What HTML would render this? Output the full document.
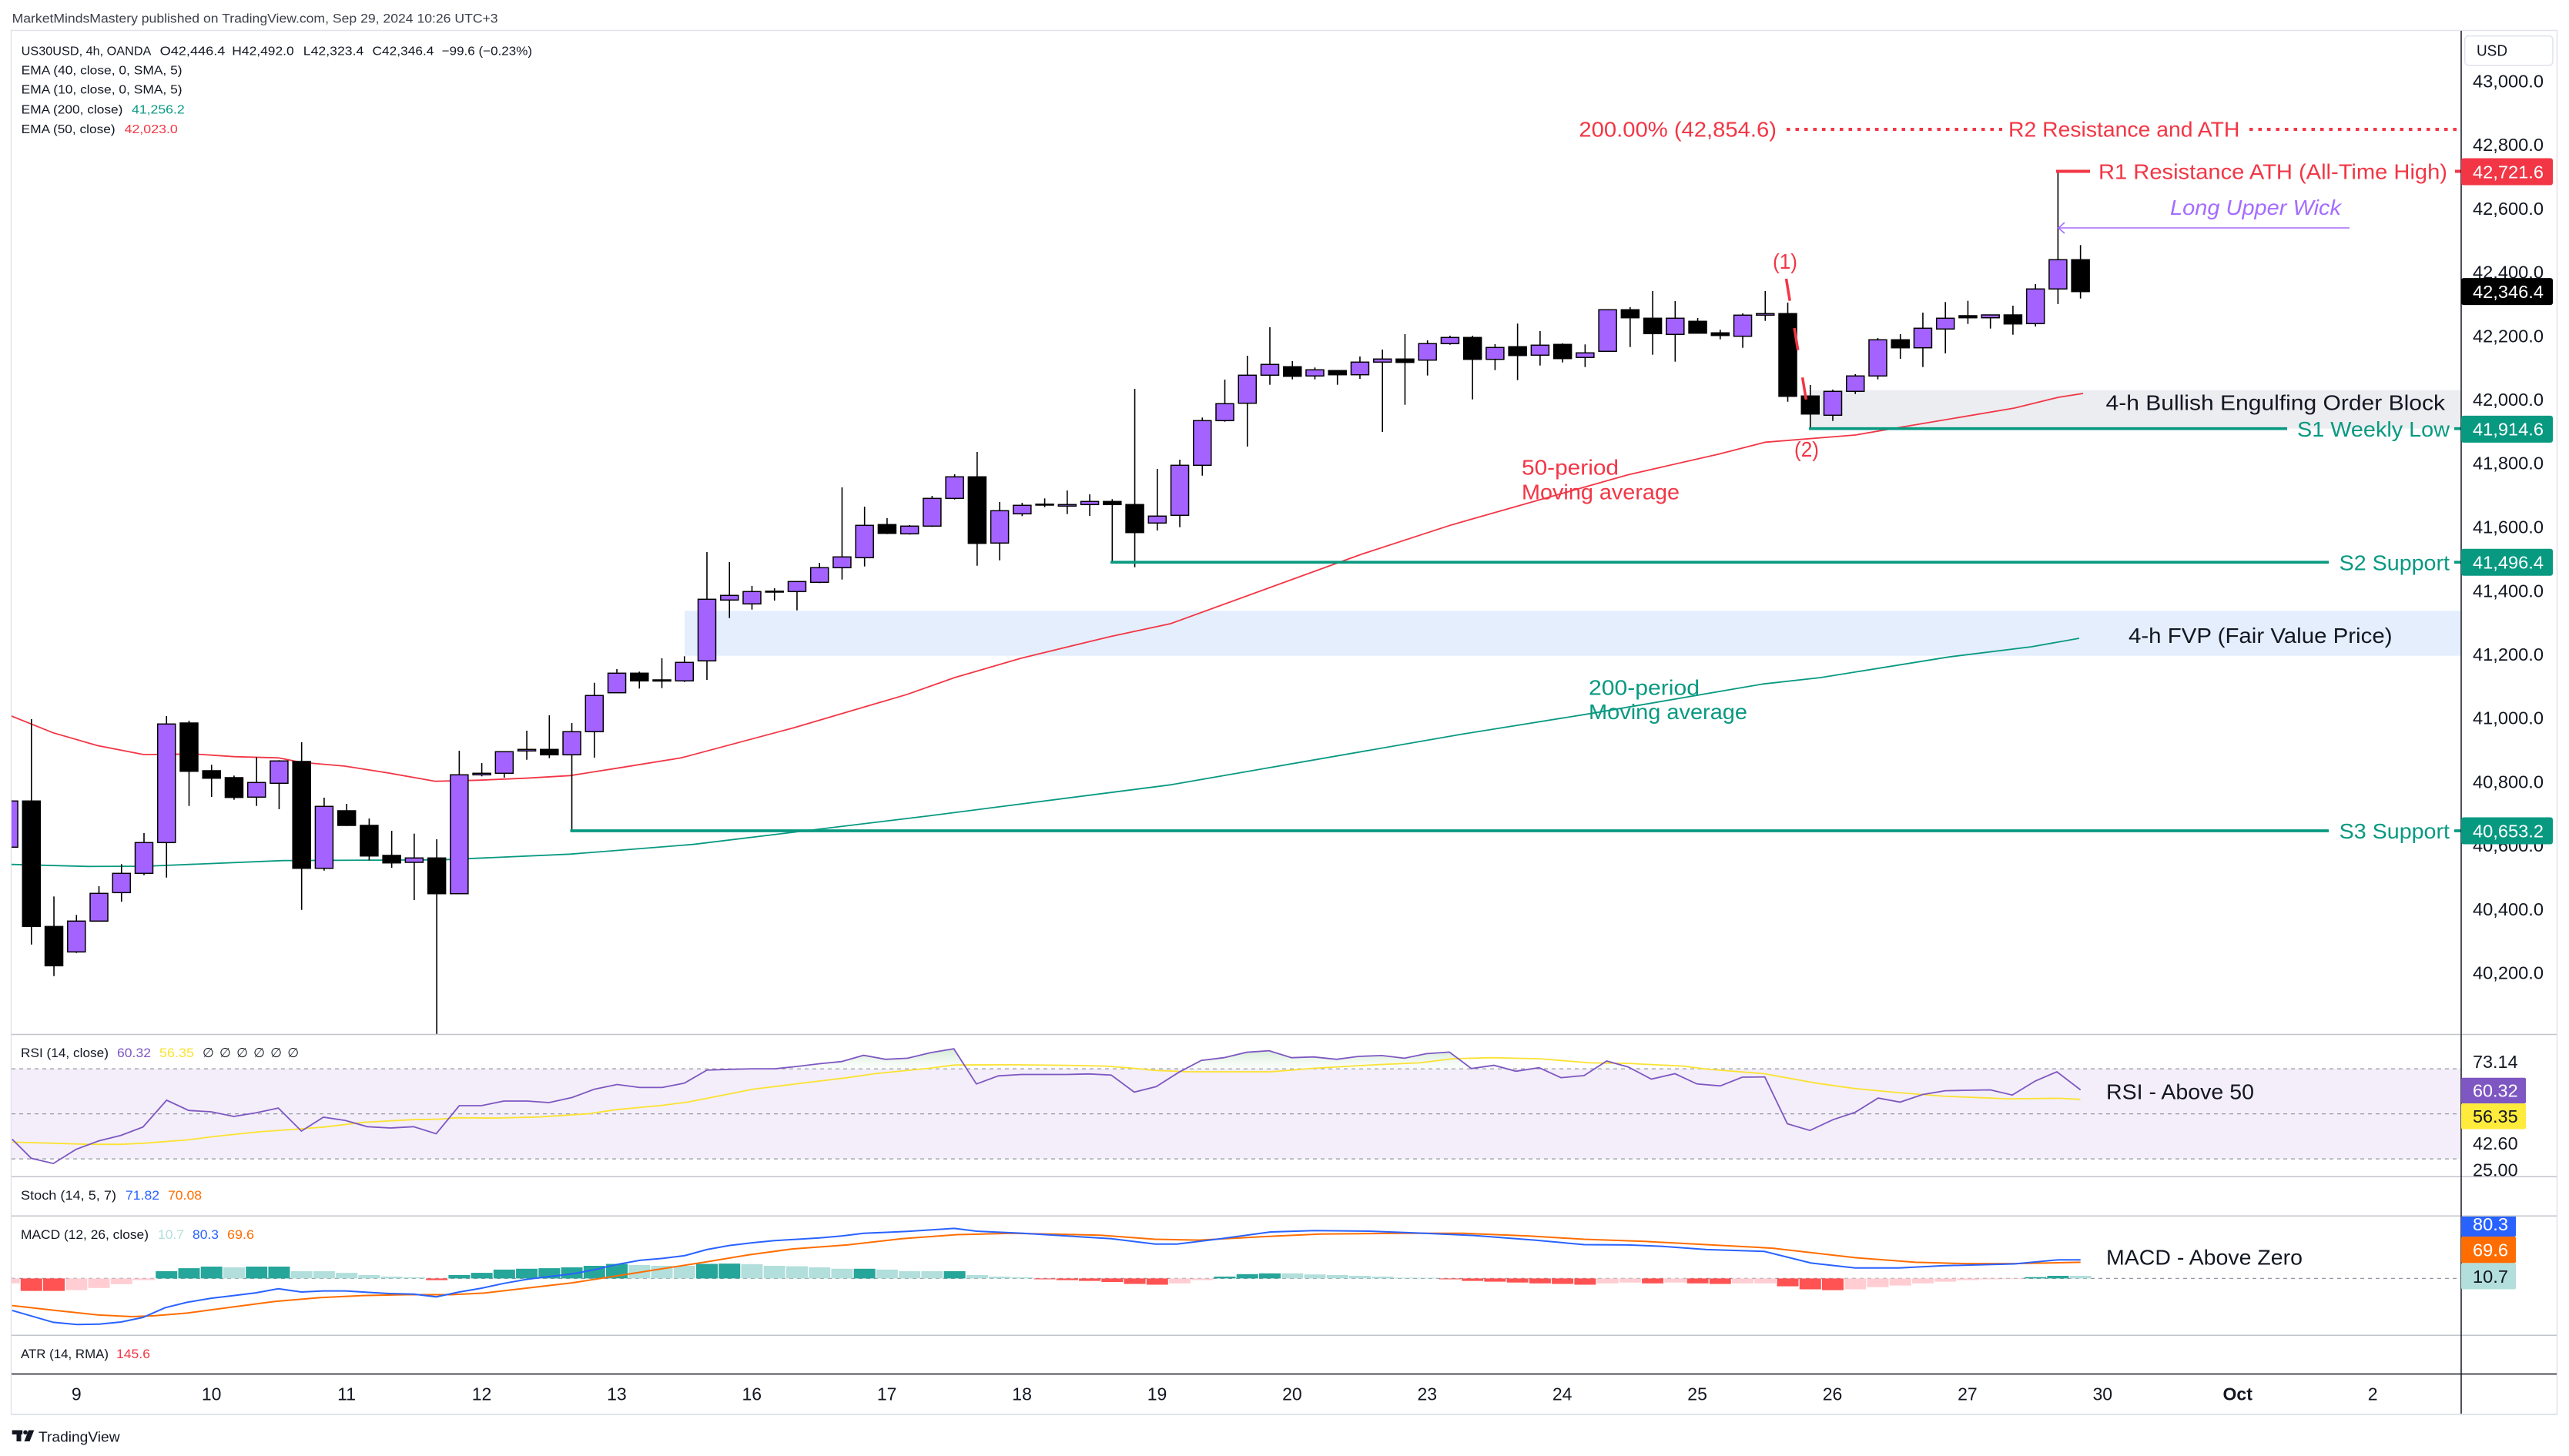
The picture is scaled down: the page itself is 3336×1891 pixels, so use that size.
<!DOCTYPE html>
<html><head><meta charset="utf-8"><style>
html,body{margin:0;padding:0;background:#fff;overflow:hidden}
svg{display:block;font-family:"Liberation Sans","DejaVu Sans",sans-serif}
.c path{stroke:#000;stroke-width:1.6;fill:none}
.c rect{stroke:#000;stroke-width:1.5}
.u rect{fill:#a463ff}
.d rect{fill:#000}
.hD{fill:#26a69a}.hL{fill:#b2dfdb}.hR{fill:#ff5252}.hP{fill:#ffcdd2}
.ax{font-size:23px;fill:#131722}
.an{font-size:28px}
.ph{font-size:17px;fill:#131722}
</style></head><body>
<svg width="3336" height="1891" viewBox="0 0 3336 1891" xmlns="http://www.w3.org/2000/svg">
<defs>
<clipPath id="cm"><rect x="15" y="40" width="3181" height="1303"/></clipPath>
<clipPath id="cr"><rect x="15" y="1344" width="3181" height="184"/></clipPath>
<clipPath id="crg"><rect x="15" y="1344" width="3181" height="44.1"/></clipPath>
<clipPath id="cmacd"><rect x="15" y="1580" width="3181" height="154"/></clipPath>
<clipPath id="cax"><rect x="3196" y="1344" width="130" height="184"/></clipPath>
<clipPath id="caxm"><rect x="3196" y="1580" width="130" height="154"/></clipPath>
<linearGradient id="gg" gradientUnits="userSpaceOnUse" x1="0" y1="1360" x2="0" y2="1388">
<stop offset="0" stop-color="#c8e6c9" stop-opacity="0.9"/><stop offset="1" stop-color="#e8f5e9" stop-opacity="0.2"/></linearGradient>
</defs>
<rect width="3336" height="1891" fill="#fff"/>

<!-- header -->
<text x="15.6" y="29.4" font-size="17" fill="#3b3f4a" textLength="631" lengthAdjust="spacingAndGlyphs">MarketMindsMastery published on TradingView.com, Sep 29, 2024 10:26 UTC+3</text>

<!-- chart frame -->
<rect x="14.5" y="39.5" width="3306" height="1797.5" fill="none" stroke="#e0e3eb" stroke-width="1.5"/>

<!-- MAIN PANE -->
<g clip-path="url(#cm)">
<rect x="889" y="793.3" width="2307" height="58.4" fill="#e4eefd"/>
<rect x="2350" y="506.7" width="846" height="50" fill="#ebedf0"/>
<polyline fill="none" stroke="#089981" stroke-width="1.8" points="14.9,1122.7 114.8,1125.3 189.4,1125 367.4,1117.7 574,1116.7 740.5,1109.3 900,1096.7 1203,1060 1520,1019.3 1900,953.3 2065.8,926.7 2289.7,888.3 2364.3,880 2530.2,853.3 2638,840 2700,829"/>
<polyline fill="none" stroke="#f23645" stroke-width="1.8" points="14.9,930 68.9,951.7 126.3,968.3 186.6,980 252.6,979.3 304,982.7 361.6,984.3 390.4,990 447.8,995 505,1004 565.4,1014.7 621,1013.3 683,1010.7 740.5,1007.3 803.7,997.3 884.6,984.3 1031.5,945 1178.5,901.7 1239.7,880 1325.5,855 1441.8,826.7 1520,810 1767.5,720 1884.9,681.7 1978.7,655 2113.7,616.7 2231,590 2292.6,574.3 2409,565 2472,554.3 2615.7,530 2673,516 2705,511"/>

<g class="c u" transform="translate(11.56)"><path d="M0 1040V1100.3"/><rect x="-11.5" y="1040.3" width="23" height="60"/></g>
<g class="c d" transform="translate(40.8)"><path d="M0 934V1226.7"/><rect x="-11.5" y="1040.3" width="23" height="163"/></g>
<g class="c d" transform="translate(70.04)"><path d="M0 1164.3V1267.7"/><rect x="-11.5" y="1203.3" width="23" height="51"/></g>
<g class="c u" transform="translate(99.28)"><path d="M0 1188.3V1237.7"/><rect x="-11.5" y="1196.3" width="23" height="40"/></g>
<g class="c u" transform="translate(128.52)"><path d="M0 1151V1196.3"/><rect x="-11.5" y="1160.3" width="23" height="36"/></g>
<g class="c u" transform="translate(157.76)"><path d="M0 1122.3V1171"/><rect x="-11.5" y="1134.3" width="23" height="25"/></g>
<g class="c u" transform="translate(187)"><path d="M0 1082V1136.7"/><rect x="-11.5" y="1094.3" width="23" height="40"/></g>
<g class="c u" transform="translate(216.24)"><path d="M0 930V1139.7"/><rect x="-11.5" y="940.3" width="23" height="154"/></g>
<g class="c d" transform="translate(245.48)"><path d="M0 936V1046.7"/><rect x="-11.5" y="939" width="23" height="62.7"/></g>
<g class="c d" transform="translate(274.72)"><path d="M0 993.3V1035"/><rect x="-11.5" y="1001" width="23" height="9.7"/></g>
<g class="c d" transform="translate(303.96)"><path d="M0 1007.3V1038.7"/><rect x="-11.5" y="1010" width="23" height="25.7"/></g>
<g class="c u" transform="translate(333.2)"><path d="M0 983.3V1046.7"/><rect x="-11.5" y="1016.3" width="23" height="19"/></g>
<g class="c u" transform="translate(362.44)"><path d="M0 987.3V1051"/><rect x="-11.5" y="988.3" width="23" height="29"/></g>
<g class="c d" transform="translate(391.68)"><path d="M0 964V1181.7"/><rect x="-11.5" y="989" width="23" height="138.7"/></g>
<g class="c u" transform="translate(420.92)"><path d="M0 1036V1130.7"/><rect x="-11.5" y="1047.3" width="23" height="80.4"/></g>
<g class="c d" transform="translate(450.16)"><path d="M0 1044V1072.7"/><rect x="-11.5" y="1053" width="23" height="19"/></g>
<g class="c d" transform="translate(479.4)"><path d="M0 1063V1117.3"/><rect x="-11.5" y="1072" width="23" height="39.7"/></g>
<g class="c d" transform="translate(508.64)"><path d="M0 1079V1127"/><rect x="-11.5" y="1111" width="23" height="9.7"/></g>
<g class="c u" transform="translate(537.88)"><path d="M0 1082.7V1169"/><rect x="-11.5" y="1114.3" width="23" height="5.7"/></g>
<g class="c d" transform="translate(567.12)"><path d="M0 1090V1343"/><rect x="-11.5" y="1114.3" width="23" height="46.4"/></g>
<g class="c u" transform="translate(596.36)"><path d="M0 975V1160.7"/><rect x="-11.5" y="1006.3" width="23" height="154.4"/></g>
<g class="c u" transform="translate(625.6)"><path d="M0 991V1008.3"/><rect x="-11.5" y="1004.3" width="23" height="2"/></g>
<g class="c u" transform="translate(654.84)"><path d="M0 976.3V1010"/><rect x="-11.5" y="976.3" width="23" height="28"/></g>
<g class="c u" transform="translate(684.08)"><path d="M0 949V986.7"/><rect x="-11.5" y="973.3" width="23" height="2"/></g>
<g class="c d" transform="translate(713.32)"><path d="M0 929V984.7"/><rect x="-11.5" y="973.3" width="23" height="7"/></g>
<g class="c u" transform="translate(742.56)"><path d="M0 939V1079"/><rect x="-11.5" y="950.3" width="23" height="30"/></g>
<g class="c u" transform="translate(771.8)"><path d="M0 886.7V984"/><rect x="-11.5" y="903.3" width="23" height="47"/></g>
<g class="c u" transform="translate(801.04)"><path d="M0 869V900.3"/><rect x="-11.5" y="874.3" width="23" height="25.4"/></g>
<g class="c d" transform="translate(830.28)"><path d="M0 872.3V894.3"/><rect x="-11.5" y="874.3" width="23" height="10"/></g>
<g class="c d" transform="translate(859.52)"><path d="M0 855V893.7"/><rect x="-11.5" y="883" width="23" height="1.5"/></g>
<g class="c u" transform="translate(888.76)"><path d="M0 852.3V885.7"/><rect x="-11.5" y="860.3" width="23" height="24"/></g>
<g class="c u" transform="translate(918)"><path d="M0 717V883"/><rect x="-11.5" y="778.3" width="23" height="80"/></g>
<g class="c u" transform="translate(947.24)"><path d="M0 730V802.7"/><rect x="-11.5" y="773.3" width="23" height="6"/></g>
<g class="c u" transform="translate(976.48)"><path d="M0 761V791.7"/><rect x="-11.5" y="768.3" width="23" height="16"/></g>
<g class="c d" transform="translate(1005.72)"><path d="M0 764V780"/><rect x="-11.5" y="767.8" width="23" height="1.2"/></g>
<g class="c u" transform="translate(1034.96)"><path d="M0 755.3V792.7"/><rect x="-11.5" y="755.3" width="23" height="13"/></g>
<g class="c u" transform="translate(1064.2)"><path d="M0 731V757.3"/><rect x="-11.5" y="737.3" width="23" height="19"/></g>
<g class="c u" transform="translate(1093.44)"><path d="M0 633V752.7"/><rect x="-11.5" y="723.3" width="23" height="14"/></g>
<g class="c u" transform="translate(1122.68)"><path d="M0 658V735.7"/><rect x="-11.5" y="682.3" width="23" height="42"/></g>
<g class="c d" transform="translate(1151.92)"><path d="M0 673V693.7"/><rect x="-11.5" y="681.3" width="23" height="11.4"/></g>
<g class="c u" transform="translate(1181.16)"><path d="M0 682V694.3"/><rect x="-11.5" y="683.3" width="23" height="10"/></g>
<g class="c u" transform="translate(1210.4)"><path d="M0 644V684.3"/><rect x="-11.5" y="647.3" width="23" height="36"/></g>
<g class="c u" transform="translate(1239.64)"><path d="M0 616V648.7"/><rect x="-11.5" y="619.3" width="23" height="28"/></g>
<g class="c d" transform="translate(1268.88)"><path d="M0 587V734.7"/><rect x="-11.5" y="619.3" width="23" height="86.4"/></g>
<g class="c u" transform="translate(1298.12)"><path d="M0 652V727.7"/><rect x="-11.5" y="663.3" width="23" height="42"/></g>
<g class="c u" transform="translate(1327.36)"><path d="M0 653V670.3"/><rect x="-11.5" y="656.3" width="23" height="11"/></g>
<g class="c d" transform="translate(1356.6)"><path d="M0 647.3V658.7"/><rect x="-11.5" y="654.8" width="23" height="1.2"/></g>
<g class="c u" transform="translate(1385.84)"><path d="M0 637V667.7"/><rect x="-11.5" y="655.3" width="23" height="2"/></g>
<g class="c u" transform="translate(1415.08)"><path d="M0 642V670"/><rect x="-11.5" y="651.3" width="23" height="4"/></g>
<g class="c d" transform="translate(1444.32)"><path d="M0 648.3V730"/><rect x="-11.5" y="651.3" width="23" height="4"/></g>
<g class="c d" transform="translate(1473.56)"><path d="M0 505V736.7"/><rect x="-11.5" y="655.3" width="23" height="36.4"/></g>
<g class="c u" transform="translate(1502.8)"><path d="M0 609V689"/><rect x="-11.5" y="670.3" width="23" height="9"/></g>
<g class="c u" transform="translate(1532.04)"><path d="M0 597V684.7"/><rect x="-11.5" y="604.3" width="23" height="65"/></g>
<g class="c u" transform="translate(1561.28)"><path d="M0 542.3V617.7"/><rect x="-11.5" y="546.3" width="23" height="58"/></g>
<g class="c u" transform="translate(1590.52)"><path d="M0 493V547.7"/><rect x="-11.5" y="524.3" width="23" height="22"/></g>
<g class="c u" transform="translate(1619.76)"><path d="M0 462V580"/><rect x="-11.5" y="487.3" width="23" height="36.4"/></g>
<g class="c u" transform="translate(1649)"><path d="M0 425V499.7"/><rect x="-11.5" y="473.3" width="23" height="14"/></g>
<g class="c d" transform="translate(1678.24)"><path d="M0 469V492.7"/><rect x="-11.5" y="476.3" width="23" height="12.4"/></g>
<g class="c u" transform="translate(1707.48)"><path d="M0 477.3V492.7"/><rect x="-11.5" y="480.3" width="23" height="8"/></g>
<g class="c d" transform="translate(1736.72)"><path d="M0 481.3V499.7"/><rect x="-11.5" y="481.3" width="23" height="5.4"/></g>
<g class="c u" transform="translate(1765.96)"><path d="M0 463V492"/><rect x="-11.5" y="470.3" width="23" height="16.4"/></g>
<g class="c u" transform="translate(1795.2)"><path d="M0 454V561"/><rect x="-11.5" y="466.3" width="23" height="4"/></g>
<g class="c d" transform="translate(1824.44)"><path d="M0 434V525.7"/><rect x="-11.5" y="466.3" width="23" height="4.4"/></g>
<g class="c u" transform="translate(1853.68)"><path d="M0 442V487.7"/><rect x="-11.5" y="446.3" width="23" height="21.4"/></g>
<g class="c u" transform="translate(1882.92)"><path d="M0 436V447.7"/><rect x="-11.5" y="438.3" width="23" height="8"/></g>
<g class="c d" transform="translate(1912.16)"><path d="M0 436V518.7"/><rect x="-11.5" y="438.3" width="23" height="28.4"/></g>
<g class="c u" transform="translate(1941.4)"><path d="M0 447V480.7"/><rect x="-11.5" y="451.3" width="23" height="15.4"/></g>
<g class="c d" transform="translate(1970.64)"><path d="M0 420.3V493.7"/><rect x="-11.5" y="450.3" width="23" height="11.4"/></g>
<g class="c u" transform="translate(1999.88)"><path d="M0 430V474.7"/><rect x="-11.5" y="448.3" width="23" height="13"/></g>
<g class="c d" transform="translate(2029.12)"><path d="M0 446V470.7"/><rect x="-11.5" y="447.3" width="23" height="18.4"/></g>
<g class="c u" transform="translate(2058.36)"><path d="M0 447.3V476.7"/><rect x="-11.5" y="458.3" width="23" height="6"/></g>
<g class="c u" transform="translate(2087.6)"><path d="M0 401.7V456.3"/><rect x="-11.5" y="402.3" width="23" height="54"/></g>
<g class="c d" transform="translate(2116.84)"><path d="M0 399V450.7"/><rect x="-11.5" y="402.3" width="23" height="10.4"/></g>
<g class="c d" transform="translate(2146.08)"><path d="M0 378V460.7"/><rect x="-11.5" y="413.3" width="23" height="20"/></g>
<g class="c u" transform="translate(2175.32)"><path d="M0 391V469.7"/><rect x="-11.5" y="413.3" width="23" height="21"/></g>
<g class="c d" transform="translate(2204.56)"><path d="M0 413V432.7"/><rect x="-11.5" y="417.3" width="23" height="15.4"/></g>
<g class="c d" transform="translate(2233.8)"><path d="M0 428.3V440.7"/><rect x="-11.5" y="432.3" width="23" height="3.4"/></g>
<g class="c u" transform="translate(2263.04)"><path d="M0 407V451.7"/><rect x="-11.5" y="409.3" width="23" height="27.4"/></g>
<g class="c u" transform="translate(2292.28)"><path d="M0 378V416.7"/><rect x="-11.5" y="407.3" width="23" height="2"/></g>
<g class="c d" transform="translate(2321.52)"><path d="M0 393V521.7"/><rect x="-11.5" y="407.3" width="23" height="107.4"/></g>
<g class="c d" transform="translate(2350.76)"><path d="M0 500V556.7"/><rect x="-11.5" y="514.3" width="23" height="23.4"/></g>
<g class="c u" transform="translate(2380)"><path d="M0 506V546.7"/><rect x="-11.5" y="508.3" width="23" height="31"/></g>
<g class="c u" transform="translate(2409.24)"><path d="M0 486V511.7"/><rect x="-11.5" y="488.3" width="23" height="20"/></g>
<g class="c u" transform="translate(2438.48)"><path d="M0 439V492.7"/><rect x="-11.5" y="441.3" width="23" height="47"/></g>
<g class="c d" transform="translate(2467.72)"><path d="M0 434V466"/><rect x="-11.5" y="441.3" width="23" height="10.4"/></g>
<g class="c u" transform="translate(2496.96)"><path d="M0 406V476.7"/><rect x="-11.5" y="426.3" width="23" height="25.4"/></g>
<g class="c u" transform="translate(2526.2)"><path d="M0 392.3V459"/><rect x="-11.5" y="413.3" width="23" height="14"/></g>
<g class="c d" transform="translate(2555.44)"><path d="M0 390.7V420.7"/><rect x="-11.5" y="410" width="23" height="2.7"/></g>
<g class="c u" transform="translate(2584.68)"><path d="M0 409V426.7"/><rect x="-11.5" y="409" width="23" height="3.7"/></g>
<g class="c d" transform="translate(2613.92)"><path d="M0 397V434.7"/><rect x="-11.5" y="409" width="23" height="11.7"/></g>
<g class="c u" transform="translate(2643.16)"><path d="M0 369V424"/><rect x="-11.5" y="375.3" width="23" height="45"/></g>
<g class="c u" transform="translate(2672.4)"><path d="M0 222.7V395"/><rect x="-11.5" y="337.3" width="23" height="38"/></g>
<g class="c d" transform="translate(2701.64)"><path d="M0 318.3V387.7"/><rect x="-11.5" y="337.3" width="23" height="41.4"/></g>

<!-- drawings -->
<g stroke="#089981" stroke-width="3.7">
<line x1="2349" y1="556.7" x2="2970" y2="556.7"/><line x1="3187" y1="556.7" x2="3196" y2="556.7"/>
<line x1="1442" y1="730.2" x2="3024" y2="730.2"/><line x1="3187" y1="730.2" x2="3196" y2="730.2"/>
<line x1="740.5" y1="1079" x2="3024" y2="1079"/><line x1="3187" y1="1079" x2="3196" y2="1079"/>
</g>
<g stroke="#f23645" stroke-width="4">
<line x1="2670" y1="222.5" x2="2714" y2="222.5"/><line x1="3188" y1="222.5" x2="3196" y2="222.5"/>
<line x1="2320" y1="168" x2="2600" y2="168" stroke-dasharray="4.5 7"/>
<line x1="2921" y1="168" x2="3196" y2="168" stroke-dasharray="4.5 7"/>
<line x1="2319.5" y1="362" x2="2345.5" y2="520" stroke-width="3.5" stroke-dasharray="29 36"/>
</g>
<line x1="2672" y1="296" x2="3051" y2="296" stroke="#a56cff" stroke-width="1.6"/>
<polyline points="2681,289 2673,296 2681,303" fill="none" stroke="#a56cff" stroke-width="1.6"/>
</g>

<!-- annotations -->
<g class="an">
<text x="2050.4" y="177.7" fill="#f23645" textLength="256.6" lengthAdjust="spacingAndGlyphs">200.00% (42,854.6)</text>
<text x="2608" y="177.7" fill="#f23645" textLength="300.4" lengthAdjust="spacingAndGlyphs">R2 Resistance and ATH</text>
<text x="2725" y="232.7" fill="#f23645" textLength="453" lengthAdjust="spacingAndGlyphs">R1 Resistance ATH (All-Time High)</text>
<text x="2818" y="279" fill="#a56cff" font-style="italic" textLength="222" lengthAdjust="spacingAndGlyphs">Long Upper Wick</text>
<text x="2302" y="349" fill="#f23645" textLength="32" lengthAdjust="spacingAndGlyphs">(1)</text>
<text x="2734.5" y="532.7" fill="#131722" textLength="440.5" lengthAdjust="spacingAndGlyphs">4-h Bullish Engulfing Order Block</text>
<text x="2983" y="567" fill="#089981" textLength="198" lengthAdjust="spacingAndGlyphs">S1 Weekly Low</text>
<text x="2330" y="593" fill="#f23645" textLength="32" lengthAdjust="spacingAndGlyphs">(2)</text>
<text x="1976" y="616.7" fill="#f23645" textLength="126" lengthAdjust="spacingAndGlyphs">50-period</text>
<text x="1976" y="648.3" fill="#f23645" textLength="205" lengthAdjust="spacingAndGlyphs">Moving average</text>
<text x="3037.7" y="740.7" fill="#089981" textLength="143.3" lengthAdjust="spacingAndGlyphs">S2 Support</text>
<text x="2764" y="835" fill="#131722" textLength="342.5" lengthAdjust="spacingAndGlyphs">4-h FVP (Fair Value Price)</text>
<text x="2063" y="902.7" fill="#089981" textLength="144" lengthAdjust="spacingAndGlyphs">200-period</text>
<text x="2063" y="934" fill="#089981" textLength="206" lengthAdjust="spacingAndGlyphs">Moving average</text>
<text x="3037.7" y="1089" fill="#089981" textLength="143.3" lengthAdjust="spacingAndGlyphs">S3 Support</text>
</g>

<!-- legend -->
<g font-size="16" fill="#131722">
<text x="27.7" y="71.5" textLength="168.7" lengthAdjust="spacingAndGlyphs">US30USD, 4h, OANDA</text>
<text x="207.6" y="71.5" textLength="84.8" lengthAdjust="spacingAndGlyphs">O42,446.4</text>
<text x="301.3" y="71.5" textLength="80.4" lengthAdjust="spacingAndGlyphs">H42,492.0</text>
<text x="393.8" y="71.5" textLength="78.5" lengthAdjust="spacingAndGlyphs">L42,323.4</text>
<text x="483.5" y="71.5" textLength="79.9" lengthAdjust="spacingAndGlyphs">C42,346.4</text>
<text x="573.7" y="71.5" textLength="117.3" lengthAdjust="spacingAndGlyphs">−99.6 (−0.23%)</text>
<text x="27.7" y="96.5" textLength="208.9" lengthAdjust="spacingAndGlyphs">EMA (40, close, 0, SMA, 5)</text>
<text x="27.7" y="121.5" textLength="208.9" lengthAdjust="spacingAndGlyphs">EMA (10, close, 0, SMA, 5)</text>
<text x="27.7" y="147.5" textLength="131.7" lengthAdjust="spacingAndGlyphs">EMA (200, close)</text>
<text x="171" y="147.5" fill="#089981" textLength="68.7" lengthAdjust="spacingAndGlyphs">41,256.2</text>
<text x="27.7" y="173.1" textLength="121.9" lengthAdjust="spacingAndGlyphs">EMA (50, close)</text>
<text x="161.6" y="173.1" fill="#f23645" textLength="69.2" lengthAdjust="spacingAndGlyphs">42,023.0</text>
</g>

<!-- RSI PANE -->
<rect x="15" y="1388.1" width="3181" height="117" fill="#f3eef9"/>
<g stroke="#9598a1" stroke-width="1.2" stroke-dasharray="5 5">
<line x1="15" y1="1388.1" x2="3196" y2="1388.1"/><line x1="15" y1="1446.6" x2="3196" y2="1446.6"/><line x1="15" y1="1505.1" x2="3196" y2="1505.1"/>
</g>
<g clip-path="url(#crg)">
<polygon fill="url(#gg)" points="15.7,1388.1 15.7,1479.5 40.7,1504.4 69.3,1511.1 98.6,1492.8 128.6,1481.6 157,1474.6 185.7,1463.7 216.4,1428.9 245,1442.2 274.3,1444 303.6,1450 332,1445.4 361.4,1439.1 391.4,1469 420,1451 448.6,1455.2 477,1463.3 507,1465 537,1463.3 566.4,1472.5 596.4,1436 625,1436 654.3,1430 684.3,1430 712.9,1432 742.9,1425.4 771.4,1414.8 801.4,1408.5 830.7,1412.4 860,1412.4 888.6,1406.8 917.9,1389.9 947,1388.8 976.4,1388.1 1005.7,1388.1 1035.7,1385 1064.3,1381.5 1092.9,1378.7 1121.4,1370.6 1150,1375.8 1178.6,1374.4 1208.6,1367.1 1238.6,1362.1 1267.9,1407.8 1296.4,1397.3 1326.4,1395.5 1355.7,1395.5 1384.3,1395.5 1414.3,1394.8 1442.9,1396.2 1472.9,1418.4 1501.4,1411.3 1530.7,1392.7 1560,1377.2 1589.3,1373.7 1618.6,1366.7 1647.9,1364.6 1677.1,1373.7 1705.7,1372.7 1735.7,1375.8 1764.3,1372 1794.3,1370.9 1823.6,1374.4 1852.1,1368.5 1882.1,1366.4 1910.7,1387.8 1940,1383.6 1968.6,1391.3 1998.6,1386.7 2027.1,1399.7 2057.1,1396.9 2086.4,1378 2114.3,1385.7 2144.3,1401.5 2175,1394.5 2203.6,1407.8 2701.7,1388.1"/>
</g>
<g clip-path="url(#cr)" fill="none" stroke-width="1.8">
<polyline stroke="#fbe232" points="15.7,1483.4 71.4,1484.8 114,1486.2 157,1486.2 185.7,1484.8 242.9,1480.5 278.6,1476 335.7,1470 385.7,1466.5 421.4,1463.7 471.4,1457.7 535.7,1454.2 571.4,1453.5 592.9,1451.7 642.9,1452.1 700,1450.7 764.3,1446.5 800,1441.2 857.1,1435.9 892.9,1431.4 978.6,1414.5 1035.7,1407.5 1100,1399.7 1135.7,1394.5 1207,1387.4 1239.3,1383.2 1314.3,1382.9 1385.7,1383.6 1435.7,1384.6 1471.4,1387.4 1500,1390.2 1542.9,1392 1650,1392 1707,1387.4 1785.7,1382.9 1842.9,1380.4 1885.7,1375.1 1935.7,1373.7 2000,1375.1 2064.3,1380.4 2114.3,1381.1 2185.7,1384.6 2216,1388.5 2291,1394.5 2358.9,1406.8 2408.9,1413.8 2466,1419.1 2523,1423.6 2608.6,1427.1 2673,1426.4 2701.4,1427.8"/>
<polyline stroke="#7e57c2" points="15.7,1479.5 40.7,1504.4 69.3,1511.1 98.6,1492.8 128.6,1481.6 157,1474.6 185.7,1463.7 216.4,1428.9 245,1442.2 274.3,1444 303.6,1450 332,1445.4 361.4,1439.1 391.4,1469 420,1451 448.6,1455.2 477,1463.3 507,1465 537,1463.3 566.4,1472.5 596.4,1436 625,1436 654.3,1430 684.3,1430 712.9,1432 742.9,1425.4 771.4,1414.8 801.4,1408.5 830.7,1412.4 860,1412.4 888.6,1406.8 917.9,1389.9 947,1388.8 976.4,1388.1 1005.7,1388.1 1035.7,1385 1064.3,1381.5 1092.9,1378.7 1121.4,1370.6 1150,1375.8 1178.6,1374.4 1208.6,1367.1 1238.6,1362.1 1267.9,1407.8 1296.4,1397.3 1326.4,1395.5 1355.7,1395.5 1384.3,1395.5 1414.3,1394.8 1442.9,1396.2 1472.9,1418.4 1501.4,1411.3 1530.7,1392.7 1560,1377.2 1589.3,1373.7 1618.6,1366.7 1647.9,1364.6 1677.1,1373.7 1705.7,1372.7 1735.7,1375.8 1764.3,1372 1794.3,1370.9 1823.6,1374.4 1852.1,1368.5 1882.1,1366.4 1910.7,1387.8 1940,1383.6 1968.6,1391.3 1998.6,1386.7 2027.1,1399.7 2057.1,1396.9 2086.4,1378 2114.3,1385.7 2144.3,1401.5 2175,1394.5 2203.6,1407.8 2233.9,1410.3 2262.4,1399 2291.7,1398.7 2321,1459.5 2350.3,1468.2 2380.3,1454.2 2408.9,1444.7 2438.9,1426.1 2467.4,1431.4 2496.7,1421.5 2526,1416.6 2555.5,1416 2584.6,1415.5 2613.1,1422.2 2643.1,1403.9 2671,1392 2701.7,1415.5"/>
</g>
<g class="ph">
<text x="27" y="1373.1" textLength="114" lengthAdjust="spacingAndGlyphs">RSI (14, close)</text>
<text x="152" y="1373.1" fill="#7e57c2" textLength="44" lengthAdjust="spacingAndGlyphs">60.32</text>
<text x="207" y="1373.1" fill="#fbe232" textLength="45" lengthAdjust="spacingAndGlyphs">56.35</text>
<text x="263" y="1373.1" textLength="125" lengthAdjust="spacing">∅ ∅ ∅ ∅ ∅ ∅</text>
<text x="27" y="1558.1" textLength="124" lengthAdjust="spacingAndGlyphs">Stoch (14, 5, 7)</text>
<text x="163" y="1558.1" fill="#2962ff" textLength="44" lengthAdjust="spacingAndGlyphs">71.82</text>
<text x="218" y="1558.1" fill="#ff6d00" textLength="44" lengthAdjust="spacingAndGlyphs">70.08</text>
<text x="27" y="1608.9" textLength="166" lengthAdjust="spacingAndGlyphs">MACD (12, 26, close)</text>
<text x="205" y="1608.9" fill="#b2dfdb" textLength="34" lengthAdjust="spacingAndGlyphs">10.7</text>
<text x="250" y="1608.9" fill="#2962ff" textLength="34" lengthAdjust="spacingAndGlyphs">80.3</text>
<text x="295" y="1608.9" fill="#ff6d00" textLength="35" lengthAdjust="spacingAndGlyphs">69.6</text>
<text x="27" y="1764.1" textLength="114" lengthAdjust="spacingAndGlyphs">ATR (14, RMA)</text>
<text x="151" y="1764.1" fill="#f23645" textLength="44" lengthAdjust="spacingAndGlyphs">145.6</text>
</g>

<!-- MACD PANE -->
<line x1="15" y1="1660.4" x2="3196" y2="1660.4" stroke="#9598a1" stroke-width="1.2" stroke-dasharray="5 5"/>
<g clip-path="url(#cmacd)">
<rect class="hP" x="-2.44" y="1660.4" width="28" height="6.4"/>
<rect class="hR" x="26.8" y="1660.4" width="28" height="16.2"/>
<rect class="hR" x="56.04" y="1660.4" width="28" height="16.2"/>
<rect class="hP" x="85.28" y="1660.4" width="28" height="15.2"/>
<rect class="hP" x="114.52" y="1660.4" width="28" height="12.4"/>
<rect class="hP" x="143.76" y="1660.4" width="28" height="7.4"/>
<rect class="hP" x="173" y="1660.4" width="28" height="2.2"/>
<rect class="hD" x="202.24" y="1651" width="28" height="9.4"/>
<rect class="hD" x="231.48" y="1647.1" width="28" height="13.3"/>
<rect class="hD" x="260.72" y="1645" width="28" height="15.4"/>
<rect class="hL" x="289.96" y="1646" width="28" height="14.4"/>
<rect class="hD" x="319.2" y="1645" width="28" height="15.4"/>
<rect class="hD" x="348.44" y="1645" width="28" height="15.4"/>
<rect class="hL" x="377.68" y="1651" width="28" height="9.4"/>
<rect class="hL" x="406.92" y="1651" width="28" height="9.4"/>
<rect class="hL" x="436.16" y="1653.1" width="28" height="7.3"/>
<rect class="hL" x="465.4" y="1655.9" width="28" height="4.5"/>
<rect class="hL" x="494.64" y="1658" width="28" height="2.4"/>
<rect class="hL" x="523.88" y="1659" width="28" height="1.4"/>
<rect class="hR" x="553.12" y="1660.4" width="28" height="2.2"/>
<rect class="hD" x="582.36" y="1655.9" width="28" height="4.5"/>
<rect class="hD" x="611.6" y="1653.1" width="28" height="7.3"/>
<rect class="hD" x="640.84" y="1648.9" width="28" height="11.5"/>
<rect class="hD" x="670.08" y="1647.8" width="28" height="12.6"/>
<rect class="hD" x="699.32" y="1647.1" width="28" height="13.3"/>
<rect class="hD" x="728.56" y="1646" width="28" height="14.4"/>
<rect class="hD" x="757.8" y="1644" width="28" height="16.4"/>
<rect class="hD" x="787.04" y="1641.5" width="28" height="18.9"/>
<rect class="hL" x="816.28" y="1642.9" width="28" height="17.5"/>
<rect class="hL" x="845.52" y="1644" width="28" height="16.4"/>
<rect class="hL" x="874.76" y="1644" width="28" height="16.4"/>
<rect class="hD" x="904" y="1641.5" width="28" height="18.9"/>
<rect class="hD" x="933.24" y="1641.1" width="28" height="19.3"/>
<rect class="hL" x="962.48" y="1641.8" width="28" height="18.6"/>
<rect class="hL" x="991.72" y="1644" width="28" height="16.4"/>
<rect class="hL" x="1020.96" y="1644.6" width="28" height="15.8"/>
<rect class="hL" x="1050.2" y="1646" width="28" height="14.4"/>
<rect class="hL" x="1079.44" y="1647.8" width="28" height="12.6"/>
<rect class="hD" x="1108.68" y="1647.8" width="28" height="12.6"/>
<rect class="hL" x="1137.92" y="1648.9" width="28" height="11.5"/>
<rect class="hL" x="1167.16" y="1651" width="28" height="9.4"/>
<rect class="hL" x="1196.4" y="1651" width="28" height="9.4"/>
<rect class="hD" x="1225.64" y="1651" width="28" height="9.4"/>
<rect class="hL" x="1254.88" y="1655.9" width="28" height="4.5"/>
<rect class="hL" x="1284.12" y="1658" width="28" height="2.4"/>
<rect class="hL" x="1313.36" y="1659" width="28" height="1.4"/>
<rect class="hR" x="1342.6" y="1660.4" width="28" height="1.1"/>
<rect class="hR" x="1371.84" y="1660.4" width="28" height="2.2"/>
<rect class="hR" x="1401.08" y="1660.4" width="28" height="3.2"/>
<rect class="hR" x="1430.32" y="1660.4" width="28" height="4.6"/>
<rect class="hR" x="1459.56" y="1660.4" width="28" height="7.1"/>
<rect class="hR" x="1488.8" y="1660.4" width="28" height="8.1"/>
<rect class="hP" x="1518.04" y="1660.4" width="28" height="6.4"/>
<rect class="hP" x="1547.28" y="1660.4" width="28" height="2.2"/>
<rect class="hD" x="1576.52" y="1658" width="28" height="2.4"/>
<rect class="hD" x="1605.76" y="1654.8" width="28" height="5.6"/>
<rect class="hD" x="1635" y="1653.8" width="28" height="6.6"/>
<rect class="hL" x="1664.24" y="1653.8" width="28" height="6.6"/>
<rect class="hL" x="1693.48" y="1655.2" width="28" height="5.2"/>
<rect class="hL" x="1722.72" y="1655.9" width="28" height="4.5"/>
<rect class="hL" x="1751.96" y="1657" width="28" height="3.4"/>
<rect class="hL" x="1781.2" y="1658" width="28" height="2.4"/>
<rect class="hL" x="1810.44" y="1659.4" width="28" height="1"/>
<rect class="hL" x="1839.68" y="1659.6" width="28" height="0.8"/>
<rect class="hR" x="1868.92" y="1660.4" width="28" height="1.1"/>
<rect class="hR" x="1898.16" y="1660.4" width="28" height="3.2"/>
<rect class="hR" x="1927.4" y="1660.4" width="28" height="4.2"/>
<rect class="hR" x="1956.64" y="1660.4" width="28" height="5.3"/>
<rect class="hR" x="1985.88" y="1660.4" width="28" height="6.4"/>
<rect class="hR" x="2015.12" y="1660.4" width="28" height="7.1"/>
<rect class="hR" x="2044.36" y="1660.4" width="28" height="8.1"/>
<rect class="hP" x="2073.6" y="1660.4" width="28" height="6.4"/>
<rect class="hP" x="2102.84" y="1660.4" width="28" height="5.3"/>
<rect class="hR" x="2132.08" y="1660.4" width="28" height="6.4"/>
<rect class="hP" x="2161.32" y="1660.4" width="28" height="5.3"/>
<rect class="hR" x="2190.56" y="1660.4" width="28" height="6.4"/>
<rect class="hR" x="2219.8" y="1660.4" width="28" height="7.1"/>
<rect class="hP" x="2249.04" y="1660.4" width="28" height="6.4"/>
<rect class="hP" x="2278.28" y="1660.4" width="28" height="6.4"/>
<rect class="hR" x="2307.52" y="1660.4" width="28" height="10.2"/>
<rect class="hR" x="2336.76" y="1660.4" width="28" height="14.1"/>
<rect class="hR" x="2366" y="1660.4" width="28" height="15.2"/>
<rect class="hP" x="2395.24" y="1660.4" width="28" height="14.1"/>
<rect class="hP" x="2424.48" y="1660.4" width="28" height="11.3"/>
<rect class="hP" x="2453.72" y="1660.4" width="28" height="9.2"/>
<rect class="hP" x="2482.96" y="1660.4" width="28" height="6.4"/>
<rect class="hP" x="2512.2" y="1660.4" width="28" height="4.2"/>
<rect class="hP" x="2541.44" y="1660.4" width="28" height="2.2"/>
<rect class="hP" x="2570.68" y="1660.4" width="28" height="1.1"/>
<rect class="hP" x="2599.92" y="1660.4" width="28" height="0.8"/>
<rect class="hD" x="2629.16" y="1658.7" width="28" height="1.7"/>
<rect class="hD" x="2658.4" y="1657" width="28" height="3.4"/>
<rect class="hL" x="2687.64" y="1657" width="28" height="3.4"/>
<g fill="none" stroke-width="2">
<polyline stroke="#ff6d00" points="15.7,1695.6 71.4,1701.9 128.6,1707.9 171.4,1710 200,1708.9 242.9,1705.4 300,1697.7 357.1,1690.3 414.3,1685.4 471.4,1682.6 528.6,1681.5 585.7,1681.5 628.6,1679.4 685.7,1672.7 742.9,1666.1 800,1657.3 857.1,1648.2 914.3,1639.4 971.4,1629.9 1028.6,1622.1 1100,1616.9 1171.4,1608.8 1242.9,1603.5 1314.3,1601.8 1428.6,1604.2 1500,1609.5 1557,1610.6 1642.9,1606 1714.3,1602.8 1814.3,1601.8 1900,1601.8 1985.7,1605.3 2057.1,1609.5 2135.7,1612.3 2216,1616.5 2301.7,1621.1 2408.9,1633.4 2487.4,1639.4 2551.4,1641.1 2616,1641.1 2701.7,1639.4"/>
<polyline stroke="#2962ff" points="15.7,1701.9 69.3,1717.4 100,1720.2 128.6,1719.8 157,1717 185.7,1711 214.3,1698.4 242.9,1691.4 274.3,1686.1 303.6,1682.6 332,1679.1 361.4,1673.8 391.4,1678 420,1676.6 448.6,1676.6 477,1678.4 507,1680.1 537,1680.8 566.4,1684.3 596.4,1678 625,1673.1 654.3,1666.8 684.3,1661.5 712.9,1658 742.9,1654.5 771.4,1649.2 801.4,1642.2 830.7,1636.9 860,1634.4 888.6,1630.9 917.9,1622.9 947,1617.6 976.4,1614.1 1005.7,1611.3 1035.7,1609.5 1064.3,1607.7 1092.9,1605.3 1121.4,1601.8 1178.6,1599.3 1239.3,1595.4 1267.9,1599 1328.6,1601.8 1385.7,1605.3 1442.9,1608.8 1500,1615.8 1528.6,1615.8 1585.7,1608.8 1650,1600 1707,1598.3 1778.6,1599 1850,1601.8 1914.3,1604.6 1992.9,1610.6 2057.1,1616.5 2114.3,1616.9 2157.1,1618.6 2216,1622.9 2291,1625.3 2351.7,1640.4 2408.9,1646.7 2466,1646.7 2523,1643.9 2616,1641.5 2673,1636.2 2701.7,1636.2"/>
</g>
</g>

<!-- pane annotations (on top) -->
<g class="an">
<text x="2735" y="1427.3" fill="#131722" textLength="192" lengthAdjust="spacingAndGlyphs">RSI - Above 50</text>
<text x="2735" y="1642.3" fill="#131722" textLength="255" lengthAdjust="spacingAndGlyphs">MACD - Above Zero</text>
</g>

<!-- separators -->
<g stroke="#c3c5cc" stroke-width="1.5">
<line x1="15" y1="1343.5" x2="3320" y2="1343.5"/>
<line x1="15" y1="1528.3" x2="3320" y2="1528.3"/>
<line x1="15" y1="1579.3" x2="3320" y2="1579.3"/>
<line x1="15" y1="1734.2" x2="3320" y2="1734.2"/>
</g>
<line x1="15" y1="1784.5" x2="3320" y2="1784.5" stroke="#131722" stroke-width="1.5"/>
<line x1="3196" y1="40" x2="3196" y2="1837" stroke="#131722" stroke-width="1.5"/>

<!-- price axis -->
<rect x="3200.7" y="46.6" width="114.3" height="38.4" rx="5" fill="#fff" stroke="#e0e3eb" stroke-width="1.5"/>
<text x="3216" y="72.4" font-size="20" fill="#131722" textLength="40" lengthAdjust="spacingAndGlyphs">USD</text>
<g class="ax">
<text x="3211" y="113.3" textLength="92" lengthAdjust="spacingAndGlyphs">43,000.0</text>
<text x="3211" y="196" textLength="92" lengthAdjust="spacingAndGlyphs">42,800.0</text>
<text x="3211" y="278.8" textLength="92" lengthAdjust="spacingAndGlyphs">42,600.0</text>
<text x="3211" y="361.5" textLength="92" lengthAdjust="spacingAndGlyphs">42,400.0</text>
<text x="3211" y="444.3" textLength="92" lengthAdjust="spacingAndGlyphs">42,200.0</text>
<text x="3211" y="527" textLength="92" lengthAdjust="spacingAndGlyphs">42,000.0</text>
<text x="3211" y="609.7" textLength="92" lengthAdjust="spacingAndGlyphs">41,800.0</text>
<text x="3211" y="692.3" textLength="92" lengthAdjust="spacingAndGlyphs">41,600.0</text>
<text x="3211" y="775.3" textLength="92" lengthAdjust="spacingAndGlyphs">41,400.0</text>
<text x="3211" y="857.9" textLength="92" lengthAdjust="spacingAndGlyphs">41,200.0</text>
<text x="3211" y="940.6" textLength="92" lengthAdjust="spacingAndGlyphs">41,000.0</text>
<text x="3211" y="1023.3" textLength="92" lengthAdjust="spacingAndGlyphs">40,800.0</text>
<text x="3211" y="1106.1" textLength="92" lengthAdjust="spacingAndGlyphs">40,600.0</text>
<text x="3211" y="1188.8" textLength="92" lengthAdjust="spacingAndGlyphs">40,400.0</text>
<text x="3211" y="1271.6" textLength="92" lengthAdjust="spacingAndGlyphs">40,200.0</text>
</g>
<rect x="3196" y="205.5" width="119" height="35" rx="3" fill="#f23645"/>
<rect x="3196" y="361.1" width="119" height="35" rx="3" fill="#000"/>
<rect x="3196" y="539.9" width="119" height="35" rx="3" fill="#089981"/>
<rect x="3196" y="712.7" width="119" height="35" rx="3" fill="#089981"/>
<rect x="3196" y="1061.5" width="119" height="35" rx="3" fill="#089981"/>
<g class="ax" style="fill:#fff">
<text x="3211" y="231.3" textLength="92" lengthAdjust="spacingAndGlyphs">42,721.6</text>
<text x="3211" y="386.9" textLength="92" lengthAdjust="spacingAndGlyphs">42,346.4</text>
<text x="3211" y="565.7" textLength="92" lengthAdjust="spacingAndGlyphs">41,914.6</text>
<text x="3211" y="738.5" textLength="92" lengthAdjust="spacingAndGlyphs">41,496.4</text>
<text x="3211" y="1087.3" textLength="92" lengthAdjust="spacingAndGlyphs">40,653.2</text>
</g>

<!-- RSI axis -->
<g clip-path="url(#cax)">
<text class="ax" x="3211" y="1387" textLength="58.6" lengthAdjust="spacingAndGlyphs">73.14</text>
<rect x="3196" y="1399.7" width="84" height="33.4" rx="2" fill="#7e57c2"/>
<text class="ax" style="fill:#fff" x="3211" y="1424.7" textLength="58.6" lengthAdjust="spacingAndGlyphs">60.32</text>
<rect x="3196" y="1433.1" width="84" height="33.4" rx="2" fill="#ffeb3b"/>
<text class="ax" x="3211" y="1458" textLength="58.6" lengthAdjust="spacingAndGlyphs">56.35</text>
<text class="ax" x="3211" y="1493.1" textLength="58.6" lengthAdjust="spacingAndGlyphs">42.60</text>
<text class="ax" x="3211" y="1527.5" textLength="58.6" lengthAdjust="spacingAndGlyphs">25.00</text>
</g>
<!-- MACD axis -->
<g clip-path="url(#caxm)">
<rect x="3196" y="1576" width="71" height="30" rx="2" fill="#2962ff"/>
<text class="ax" style="fill:#fff" x="3211" y="1598" textLength="46" lengthAdjust="spacingAndGlyphs">80.3</text>
<rect x="3196" y="1606" width="71" height="34.4" rx="2" fill="#ff6d00"/>
<text class="ax" style="fill:#fff" x="3211" y="1631.5" textLength="46" lengthAdjust="spacingAndGlyphs">69.6</text>
<rect x="3196" y="1640.4" width="71" height="34.1" rx="2" fill="#b2dfdb"/>
<text class="ax" x="3211" y="1665.8" textLength="46" lengthAdjust="spacingAndGlyphs">10.7</text>
</g>

<!-- time axis -->
<g class="ax" text-anchor="middle">
<text x="99.3" y="1818.3">9</text>
<text x="274.7" y="1818.3">10</text>
<text x="450.1" y="1818.3">11</text>
<text x="625.5" y="1818.3">12</text>
<text x="800.9" y="1818.3">13</text>
<text x="976.3" y="1818.3">16</text>
<text x="1151.7" y="1818.3">17</text>
<text x="1327.1" y="1818.3">18</text>
<text x="1502.5" y="1818.3">19</text>
<text x="1677.9" y="1818.3">20</text>
<text x="1853.3" y="1818.3">23</text>
<text x="2028.7" y="1818.3">24</text>
<text x="2204.1" y="1818.3">25</text>
<text x="2379.5" y="1818.3">26</text>
<text x="2554.9" y="1818.3">27</text>
<text x="2730.3" y="1818.3">30</text>
<text x="2905.7" y="1818.3" font-weight="bold">Oct</text>
<text x="3081.1" y="1818.3">2</text>
</g>
<line x1="15" y1="1837" x2="3320" y2="1837" stroke="#e0e3eb" stroke-width="2"/>

<!-- TradingView logo -->
<g fill="#131722">
<rect x="15.7" y="1857.5" width="13.5" height="5.5"/>
<rect x="21.5" y="1857.5" width="6" height="14.5"/>
<circle cx="33" cy="1860.3" r="2.8"/>
<polygon points="37,1857.5 44.3,1857.5 38.5,1872 31.5,1872"/>
</g>
<text x="50" y="1872.5" font-size="18" fill="#131722" textLength="105.6" lengthAdjust="spacingAndGlyphs">TradingView</text>
</svg>
</body></html>
